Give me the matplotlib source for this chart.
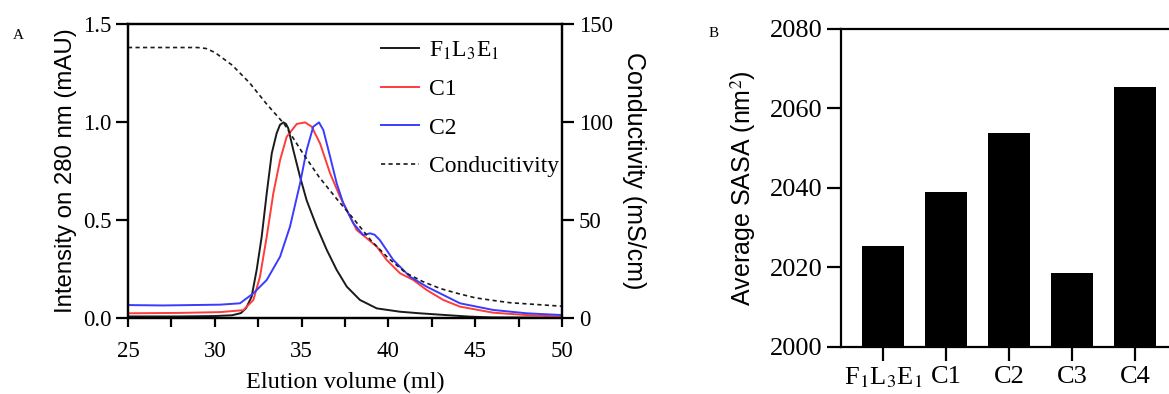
import numpy as np
import matplotlib
matplotlib.use('Agg')
from matplotlib import pyplot as plt
from matplotlib.ticker import MultipleLocator

plt.rcParams['font.family'] = 'Liberation Serif'
plt.rcParams['mathtext.fontset'] = 'stix'
plt.rcParams['axes.linewidth'] = 1.6

# elution profiles (normalised A280)
x_k = [25, 28, 30, 31, 31.5, 31.8, 32.12, 32.41, 32.7, 32.99, 33.28, 33.56, 33.75, 33.95, 34.1, 34.23,
       34.52, 34.91, 35.29, 35.87, 36.45, 37.02, 37.6, 38.36, 39.33, 40.67, 41.8, 43.3, 44.7, 46, 50]
y_k = [0.008, 0.008, 0.01, 0.014, 0.025, 0.05, 0.109, 0.245, 0.415, 0.636, 0.84, 0.942, 0.985, 0.998, 0.99, 0.968,
       0.857, 0.72, 0.60, 0.466, 0.347, 0.245, 0.16, 0.092, 0.049, 0.032, 0.024, 0.015, 0.007, 0.003, 0.002]

x_r = [25, 28, 30.3, 31.64, 32.22, 32.6, 32.99, 33.37, 33.76, 34.14, 34.72, 35.2, 35.58, 36.06, 36.64,
       37.21, 37.6, 38.17, 38.75, 39.33, 39.9, 40.67, 41.43, 42.2, 43.16, 44.12, 46.04, 47.96, 50]
y_r = [0.024, 0.026, 0.03, 0.04, 0.092, 0.21, 0.415, 0.636, 0.806, 0.925, 0.99, 0.998, 0.976, 0.891, 0.738,
       0.619, 0.551, 0.449, 0.407, 0.364, 0.296, 0.228, 0.194, 0.143, 0.092, 0.058, 0.027, 0.015, 0.007]

x_b = [25, 27, 30.3, 31.45, 32.22, 32.99, 33.76, 34.33, 34.91, 35.29, 35.67, 36.0, 36.25, 36.64, 37.02,
       37.4, 37.98, 38.55, 38.94, 39.2, 39.5, 40.28, 41.24, 42.2, 44.12, 46.04, 47.96, 50]
y_b = [0.066, 0.064, 0.068, 0.075, 0.126, 0.194, 0.313, 0.466, 0.687, 0.857, 0.976, 0.998, 0.959, 0.823, 0.687,
       0.585, 0.483, 0.423, 0.432, 0.425, 0.398, 0.296, 0.211, 0.16, 0.075, 0.041, 0.024, 0.015]

# conductivity (mS/cm)
x_c = [25, 29, 29.5, 30, 31, 32, 33, 34, 35, 36, 37, 38, 39, 40, 41, 42, 43, 44, 45, 46, 47, 48, 49, 50]
y_c = [138, 138, 137.5, 135.5, 129, 120, 109, 99, 85, 72, 61, 50.5, 39.5, 30.5, 23, 18.5, 15, 12.5, 10.3, 9, 7.8, 7.2, 6.6, 6]

# average SASA
samples = ['F$_1$L$_3$E$_1$', 'C1', 'C2', 'C3', 'C4']
sasa = [2025.5, 2039, 2053.8, 2018.6, 2065.4]

fig = plt.figure(figsize=(11.69, 3.94), dpi=100)

# ---- panel A ----
ax = fig.add_axes([0.1095, 0.1929, 0.3713, 0.7462])
l1, = ax.plot(x_k, y_k, color='#1a1a1a', lw=1.4, label='F$_1$L$_3$E$_1$')
l2, = ax.plot(x_r, y_r, color='#ff3b3b', lw=1.4, label='C1')
l3, = ax.plot(x_b, y_b, color='#3b3bff', lw=1.4, label='C2')
ax.set_xlim(25, 50)
ax.set_ylim(0, 1.5)
ax.set_xticks([25, 30, 35, 40, 45, 50])
ax.xaxis.set_minor_locator(MultipleLocator(2.5))
ax.set_yticks([0, 0.5, 1.0, 1.5])
ax.tick_params(axis='x', which='both', direction='out', length=6.5, width=1.6, labelsize=16.5, pad=10)
ax.tick_params(axis='y', direction='out', length=8.5, width=1.6, labelsize=16.5)
ax.set_xlabel('Elution volume (ml)', fontsize=17.5, labelpad=7)
ax.set_ylabel('Intensity on 280 nm (mAU)', fontsize=17.3, family='Liberation Sans', labelpad=4)

ax2 = ax.twinx()
l4, = ax2.plot(x_c, y_c, color='#1a1a1a', lw=1.2, ls=(0, (2.5, 2)), label='Conducitivity')
ax2.set_ylim(0, 150)
ax2.set_yticks([0, 50, 100, 150])
ax2.tick_params(direction='out', length=8.5, width=1.6, labelsize=16.5)
ax2.set_ylabel('Conductivity (mS/cm)', fontsize=18, family='Liberation Sans', rotation=-90, labelpad=24)

ax.legend(handles=[l1, l2, l3, l4], loc='upper left', bbox_to_anchor=(0.562, 0.98),
          frameon=False, fontsize=17, handlelength=1.6, labelspacing=0.72, handletextpad=0.4,
          borderaxespad=0)
fig.text(0.011, 0.9, 'A', fontsize=11)

# ---- panel B ----
bx = fig.add_axes([0.7194, 0.1193, 0.2874, 0.8071])
pos = np.arange(len(samples))
bx.bar(pos, np.array(sasa) - 2000, bottom=2000, width=0.667, color='black')
bx.set_xlim(-0.667, 4.667)
bx.set_ylim(2000, 2080)
bx.set_yticks([2000, 2020, 2040, 2060, 2080])
bx.set_xticks(pos)
bx.set_xticklabels(samples)
bx.spines['right'].set_visible(False)
bx.tick_params(direction='out', length=10, width=1.6, labelsize=19)
bx.set_ylabel('Average SASA (nm$^2$)', fontsize=18, family='Liberation Sans', labelpad=8)
fig.text(0.606, 0.905, 'B', fontsize=11)

fig.savefig('out.png', dpi=100)
